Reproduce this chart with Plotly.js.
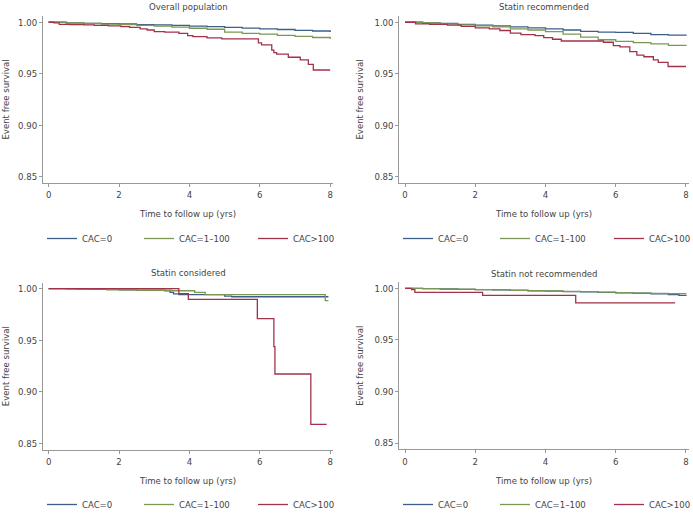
<!DOCTYPE html>
<html>
<head>
<meta charset="utf-8">
<script src="https://cdn.plot.ly/plotly-3.0.1.min.js"></script>
<style>html,body{margin:0;padding:0;background:#fff;}#chart{width:693px;height:513px;}</style>
</head>
<body>
<div id="chart"></div>
<script>
const panelTitles = ["Overall population", "Statin recommended", "Statin considered", "Statin not recommended"];
const groupNames = ["CAC=0", "CAC=1\u2013100", "CAC>100"];
const xTicks = [0, 2, 4, 6, 8];
const yTicks = [0.85, 0.90, 0.95, 1.00];

// Overall population
const p1_cac0_t = [0, 0.5, 1, 1.5, 2, 2.5, 3, 3.5, 4, 4.5, 5, 5.5, 6, 6.5, 7, 7.5, 8];
const p1_cac0_s = [1, 0.9995, 0.999, 0.9987, 0.9983, 0.9978, 0.9974, 0.997, 0.9963, 0.9957, 0.995, 0.9943, 0.9936, 0.993, 0.9922, 0.9915, 0.9905];
const p1_cac1_t = [0, 0.5, 1, 1.5, 2, 2.5, 3, 3.5, 4, 4.5, 5, 5.5, 6, 6.5, 7, 7.5, 8];
const p1_cac1_s = [1, 0.9993, 0.9988, 0.9982, 0.9977, 0.997, 0.9962, 0.9952, 0.9942, 0.9932, 0.9905, 0.9893, 0.9884, 0.9872, 0.9862, 0.9852, 0.9838];
const p1_cac2_t = [0, 0.15, 0.3, 0.6, 1, 1.3, 1.7, 2.05, 2.3, 2.6, 2.8, 3.0, 3.3, 3.7, 3.95, 4.1, 4.5, 4.92, 5.96, 6.05, 6.34, 6.4, 6.48, 6.81, 7.15, 7.38, 7.52, 8];
const p1_cac2_s = [1, 0.9995, 0.998, 0.9978, 0.9975, 0.997, 0.9965, 0.9957, 0.995, 0.9935, 0.9925, 0.991, 0.9905, 0.9893, 0.987, 0.986, 0.9848, 0.9838, 0.980, 0.978, 0.973, 0.9705, 0.969, 0.966, 0.9634, 0.959, 0.9536, 0.9536];

// Statin recommended
const p2_cac0_t = [0, 0.5, 1, 1.5, 2, 2.5, 3, 3.5, 4, 4.5, 5, 5.5, 6, 6.5, 7, 7.5, 8];
const p2_cac0_s = [1, 0.9994, 0.9988, 0.998, 0.9972, 0.9965, 0.9955, 0.9945, 0.9935, 0.9925, 0.9912, 0.9905, 0.9902, 0.9893, 0.988, 0.9875, 0.987];
const p2_cac1_t = [0, 0.5, 1, 1.5, 2, 2.5, 3, 3.5, 4, 4.5, 5, 5.5, 6, 6.5, 7, 7.5, 8];
const p2_cac1_s = [1, 0.9993, 0.9985, 0.9975, 0.9965, 0.9955, 0.9935, 0.9925, 0.991, 0.9885, 0.9855, 0.983, 0.9815, 0.9803, 0.979, 0.9775, 0.977];
const p2_cac2_t = [0, 0.3, 0.7, 1.2, 1.6, 2.0, 2.4, 2.7, 3.0, 3.3, 3.7, 3.95, 4.2, 4.45, 5.65, 5.93, 6.12, 6.4, 6.6, 6.8, 7.07, 7.21, 7.49, 8];
const p2_cac2_s = [1, 0.9985, 0.998, 0.9972, 0.996, 0.9945, 0.9935, 0.992, 0.9895, 0.988, 0.987, 0.985, 0.9835, 0.9818, 0.9806, 0.9773, 0.976, 0.9715, 0.968, 0.9665, 0.9634, 0.961, 0.957, 0.957];

// Statin considered
const p3_cac0_t = [0, 0.8, 1.2, 2.0, 2.5, 3.3, 3.45, 3.55, 3.7, 5.0, 5.2, 7.95];
const p3_cac0_s = [1, 0.9997, 0.9993, 0.999, 0.9985, 0.998, 0.9965, 0.995, 0.9942, 0.9928, 0.9922, 0.9922];
const p3_cac1_t = [0, 0.5, 1.0, 1.65, 2.5, 3.5, 4.15, 4.45, 7.85, 7.86, 7.95];
const p3_cac1_s = [1, 0.9997, 0.9995, 0.999, 0.9985, 0.998, 0.9965, 0.9942, 0.9942, 0.9885, 0.9885];
const p3_cac2_t = [0, 3.7, 3.97, 5.93, 6.4, 6.43, 7.45, 7.9];
const p3_cac2_s = [1, 0.9952, 0.9897, 0.971, 0.944, 0.9174, 0.8687, 0.8687];

// Statin not recommended
const p4_cac0_t = [0, 0.5, 1, 1.5, 2, 2.5, 3, 3.5, 4, 4.5, 5, 5.5, 6, 6.5, 7, 7.5, 7.8, 8];
const p4_cac0_s = [1, 0.9997, 0.9993, 0.999, 0.9987, 0.9984, 0.998, 0.9976, 0.9972, 0.9968, 0.9965, 0.996, 0.9956, 0.9952, 0.9947, 0.994, 0.9932, 0.9926];
const p4_cac1_t = [0, 0.5, 1, 1.5, 2, 2.5, 3, 3.5, 4, 4.5, 5, 5.5, 6, 6.5, 7, 7.5, 8];
const p4_cac1_s = [1, 0.9997, 0.9994, 0.9991, 0.9988, 0.9985, 0.9981, 0.9978, 0.9975, 0.9971, 0.9967, 0.9963, 0.9958, 0.9954, 0.9951, 0.9949, 0.9948];
const p4_cac2_t = [0, 0.19, 0.28, 2.21, 4.86, 7.69];
const p4_cac2_s = [1, 0.9987, 0.9961, 0.9932, 0.9858, 0.9858];

// ---- Build ----
const colors = ["#3d5f88", "#7b9955", "#a2324a"];
const FONT = "DejaVu Sans Condensed, DejaVu Sans, sans-serif";
const FS = 9.5;
const panels = [
  [[p1_cac0_t, p1_cac0_s], [p1_cac1_t, p1_cac1_s], [p1_cac2_t, p1_cac2_s]],
  [[p2_cac0_t, p2_cac0_s], [p2_cac1_t, p2_cac1_s], [p2_cac2_t, p2_cac2_s]],
  [[p3_cac0_t, p3_cac0_s], [p3_cac1_t, p3_cac1_s], [p3_cac2_t, p3_cac2_s]],
  [[p4_cac0_t, p4_cac0_s], [p4_cac1_t, p4_cac1_s], [p4_cac2_t, p4_cac2_s]]
];
const W = 693, H = 513;
const xDomains = [[43/W, 333/W], [399.4/W, 688.8/W], [43/W, 333/W], [399.4/W, 688.8/W]];
const yDomains = [[1-182.8/H, 1-16.1/H], [1-182.8/H, 1-16.1/H], [1-449.8/H, 1-282.5/H], [1-449.3/H, 1-282.1/H]];
const legendWidths = [52, 69, 40];

const traces = [];
panels.forEach((panel, pi) => {
  panel.forEach((series, gi) => {
    traces.push({
      type: "scatter", mode: "lines",
      x: series[0], y: series[1],
      name: groupNames[gi],
      line: {shape: "hv", color: colors[gi], width: 1.3},
      xaxis: "x" + (pi === 0 ? "" : pi + 1),
      yaxis: "y" + (pi === 0 ? "" : pi + 1),
      legend: "legend" + (pi === 0 ? "" : pi + 1),
      legendwidth: legendWidths[gi],
      showlegend: true,
      hoverinfo: "skip"
    });
  });
});

const layout = {
  width: W, height: H,
  margin: {l: 0, r: 0, t: 0, b: 0, autoexpand: false},
  paper_bgcolor: "#fff", plot_bgcolor: "#fff",
  font: {family: FONT, size: FS, color: "#444"},
  showlegend: true,
  annotations: []
};
const legendY = [1-238.5/H, 1-238.5/H, 1-504.5/H, 1-504.5/H];
const legendX = [42/W, 398/W, 42/W, 398/W];
const titleY = [1-6.3/H, 1-6.7/H, 1-272.7/H, 1-273.3/H];
for (let i = 0; i < 4; i++) {
  const s = i === 0 ? "" : String(i + 1);
  layout["xaxis" + s] = {
    domain: xDomains[i], anchor: "y" + s, range: [-0.16, 8.08],
    tickvals: xTicks, ticktext: xTicks.map(String),
    ticks: "outside", ticklen: 3, tickcolor: "#999", tickwidth: 1,
    showline: true, linecolor: "#999", linewidth: 1, showgrid: false, zeroline: false,
    tickfont: {size: FS, color: "#444"},
    title: {text: "Time to follow up (yrs)", font: {size: FS, color: "#444"}, standoff: 11}
  };
  layout["yaxis" + s] = {
    domain: yDomains[i], anchor: "x" + s, range: [0.844, 1.006],
    tickvals: yTicks, ticktext: yTicks.map(v => v.toFixed(2)),
    ticks: "outside", ticklen: 3, tickcolor: "#999", tickwidth: 1,
    showline: true, linecolor: "#999", linewidth: 1, showgrid: false, zeroline: false,
    tickfont: {size: FS, color: "#444"},
    title: {text: "Event free survival", font: {size: FS, color: "#444"}, standoff: 9}
  };
  layout["legend" + s] = {
    orientation: "h", x: legendX[i], xanchor: "left", y: legendY[i], yanchor: "middle",
    font: {size: FS, color: "#444"}, bgcolor: "rgba(0,0,0,0)", borderwidth: 0,
    itemclick: false, itemdoubleclick: false
  };
  layout.annotations.push({
    text: panelTitles[i], xref: "x" + s + " domain", x: 0.5, yref: "paper", y: titleY[i],
    xanchor: "center", yanchor: "middle", showarrow: false,
    font: {size: FS, color: "#444"}
  });
}

Plotly.newPlot("chart", traces, layout, {displayModeBar: false, staticPlot: true});
</script>
</body>
</html>
